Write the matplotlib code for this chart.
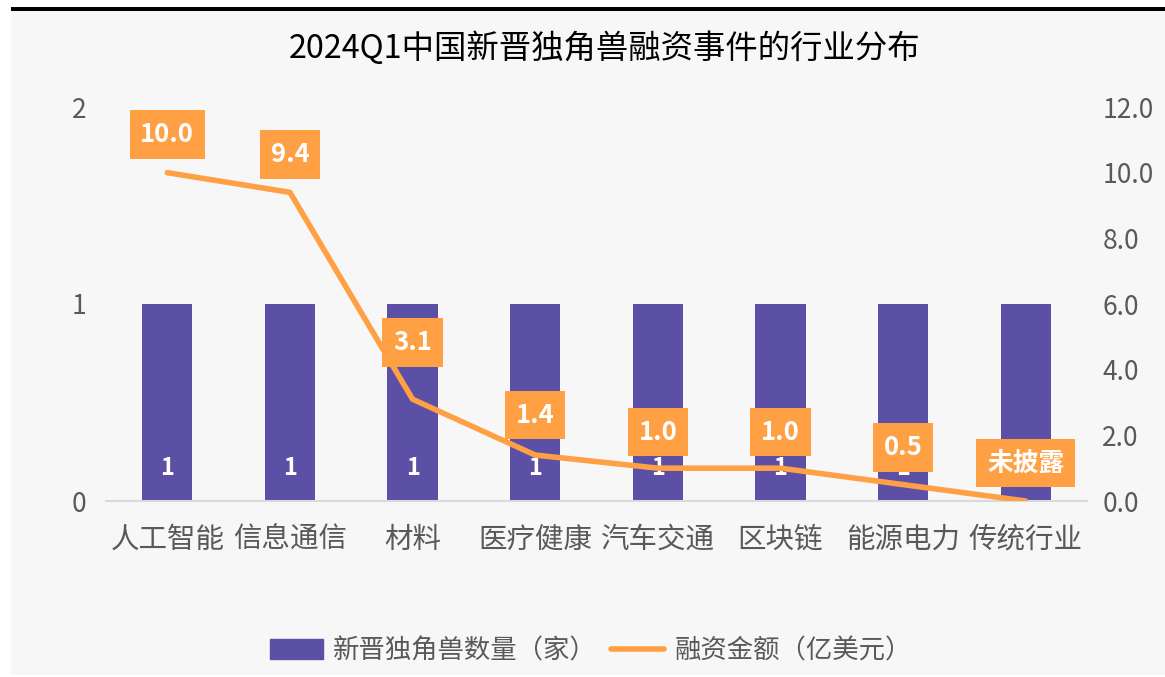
import numpy as np
import matplotlib
matplotlib.use("Agg")
import matplotlib.pyplot as plt
import matplotlib.patches as mpatches
from matplotlib.lines import Line2D

plt.rcParams['font.family'] = ['Noto Sans CJK SC', 'DejaVu Sans']

categories = ["人工智能", "信息通信", "材料", "医疗健康", "汽车交通", "区块链", "能源电力", "传统行业"]
unicorn_count = [1, 1, 1, 1, 1, 1, 1, 1]
funding = [10.0, 9.4, 3.1, 1.4, 1.0, 1.0, 0.5, 0.0]
funding_labels = ["10.0", "9.4", "3.1", "1.4", "1.0", "1.0", "0.5", "未披露"]

BAR_C = "#5c50a6"
LINE_C = "#ffa044"
TXT_C = "#595959"
BG = "#f7f7f7"

fig = plt.figure(figsize=(11.65, 6.77), dpi=100)
fig.patch.set_facecolor("white")
# grey panel and black top rule
fig.patches.append(mpatches.Rectangle((11/1165, 0.003), 1 - 11/1165, 1 - 11/677 - 0.003,
                                      transform=fig.transFigure, facecolor=BG,
                                      edgecolor="none", zorder=-10))
fig.patches.append(mpatches.Rectangle((11/1165, 1 - 11/677), 1 - 11/1165, 4/677,
                                      transform=fig.transFigure, facecolor="black",
                                      edgecolor="none", zorder=-10))

ax = fig.add_axes([106/1165, 1 - 501/677, 981/1165, 394/677])
ax.set_facecolor("none")
x = np.arange(len(categories))

ax.bar(x, unicorn_count, width=0.41, color=BAR_C, zorder=2)
for xi, v in zip(x, unicorn_count):
    ax.text(xi, 0.17, f"{v}", ha="center", va="center", color="white",
            fontsize=17, fontweight="bold", zorder=3)

ax.set_xlim(-0.5, len(categories) - 0.5)
ax.set_ylim(0, 2)
ax.set_yticks([0, 1, 2])
ax.set_xticks(x)
ax.set_xticklabels(categories)
for s in ["top", "right", "left"]:
    ax.spines[s].set_visible(False)
ax.spines["bottom"].set_color("#d9d9d9")
ax.spines["bottom"].set_linewidth(1.5)
ax.tick_params(axis="x", length=0, pad=17, labelsize=20.5, labelcolor=TXT_C)
ax.tick_params(axis="y", length=0, pad=14, labelsize=19, labelcolor=TXT_C)

ax2 = ax.twinx()
ax2.set_ylim(0, 12)
ax2.set_yticks(np.arange(0, 13, 2))
ax2.set_yticklabels([f"{v:.1f}" for v in np.arange(0, 13, 2)])
for s in ax2.spines.values():
    s.set_visible(False)
ax2.tick_params(axis="y", length=0, pad=11, labelsize=19, labelcolor=TXT_C)

ax2.plot(x, funding, color=LINE_C, lw=4, solid_capstyle="round", zorder=4)
offsets = [38, 38, 57, 40, 36, 36, 37, 38]
for xi, v, lab, off in zip(x, funding, funding_labels, offsets):
    ax2.annotate(lab, (xi, v), xytext=(0, off * 0.72), textcoords="offset points",
                 ha="center", va="center", color="white", fontsize=18.5,
                 fontweight="bold", zorder=5,
                 bbox=dict(boxstyle="square,pad=0.42", facecolor=LINE_C, edgecolor="none"))

fig.text(605/1165, 1 - 48/677, "2024Q1中国新晋独角兽融资事件的行业分布", ha="center",
         va="center", fontsize=23.3, color="black")

handles = [mpatches.Patch(color=BAR_C, label="新晋独角兽数量（家）"),
           Line2D([0], [0], color=LINE_C, lw=4, solid_capstyle="round", label="融资金额（亿美元）")]
fig.legend(handles=handles, loc="center", bbox_to_anchor=(591/1165, 1 - 651/677), ncol=2,
           frameon=False, fontsize=19, labelcolor=TXT_C, handlelength=2.0,
           handleheight=0.8, columnspacing=0.55, handletextpad=0.4)

fig.savefig("out.png", dpi=100, facecolor=fig.get_facecolor())
